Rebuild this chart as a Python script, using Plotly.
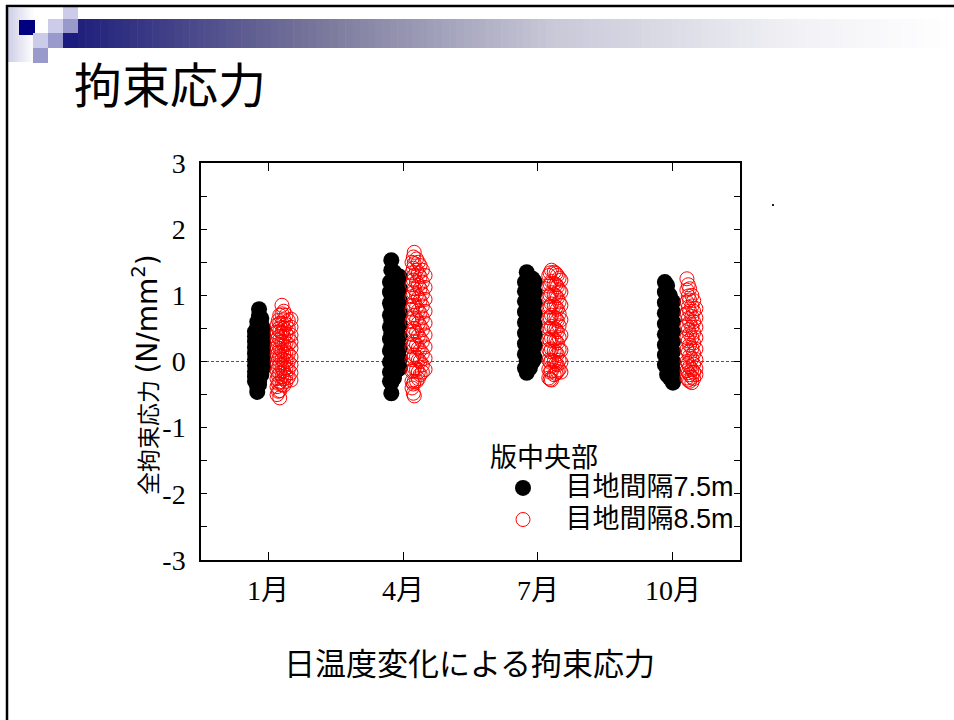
import plotly.graph_objects as go

# ---- data: restraint stress (N/mm^2), hourly values grouped by day column ----
# keys are x positions in month units, values are the stresses of that day
JAN_75 = {
    0.71: [0.45, 0.38, 0.30, 0.21, 0.12, 0.03, -0.06, -0.15, -0.23, -0.30],
    0.76: [0.60, 0.52, 0.41, 0.30, 0.18, 0.07, -0.05, -0.17, -0.28, -0.38, -0.46],
    0.80: [0.79, 0.70, 0.58, 0.45, 0.31, 0.18, 0.05, -0.08, -0.20, -0.30, -0.35],
    0.85: [0.65, 0.56, 0.44, 0.31, 0.19, 0.07, -0.04, -0.13, -0.20],
    0.89: [0.50, 0.41, 0.30, 0.19, 0.08, -0.02, -0.10],
}
JAN_85 = {
    1.20: [0.55, 0.44, 0.33, 0.21, 0.10, -0.02, -0.14, -0.26, -0.38, -0.50],
    1.23: [0.62, 0.49, 0.37, 0.26, 0.14, 0.03, -0.09, -0.21, -0.33, -0.45],
    1.26: [0.70, 0.58, 0.46, 0.33, 0.20, 0.08, -0.05, -0.18, -0.31, -0.44, -0.55],
    1.31: [0.85, 0.72, 0.58, 0.44, 0.30, 0.16, 0.03, -0.10, -0.23, -0.35],
    1.35: [0.76, 0.63, 0.50, 0.37, 0.24, 0.11, -0.02, -0.14, -0.26, -0.36],
    1.40: [0.70, 0.56, 0.42, 0.28, 0.15, 0.02, -0.10, -0.21, -0.30],
    1.45: [0.62, 0.50, 0.38, 0.26, 0.12, 0.00, -0.12, -0.24],
    1.51: [0.64, 0.52, 0.40, 0.30, 0.20, 0.07, -0.05, -0.17, -0.28],
}
APR_75 = {
    3.71: [1.20, 1.05, 0.88, 0.70, 0.52, 0.34, 0.16, -0.01, -0.16, -0.30],
    3.74: [1.53, 1.38, 1.20, 1.01, 0.82, 0.62, 0.42, 0.22, 0.03, -0.15, -0.32, -0.48],
    3.80: [1.35, 1.20, 1.02, 0.84, 0.65, 0.46, 0.28, 0.10, -0.08, -0.25],
    3.87: [1.30, 1.14, 0.97, 0.79, 0.61, 0.43, 0.25, 0.08, -0.13],
    3.93: [1.28, 1.10, 0.92, 0.74, 0.56, 0.38, 0.20, 0.04, -0.10],
}
APR_85 = {
    4.20: [1.50, 1.34, 1.16, 0.98, 0.79, 0.60, 0.41, 0.22, 0.03, -0.15, -0.30, -0.40],
    4.23: [1.58, 1.41, 1.23, 1.04, 0.85, 0.66, 0.46, 0.26, 0.06, -0.14, -0.34, -0.48],
    4.25: [1.65, 1.48, 1.30, 1.10, 0.90, 0.70, 0.50, 0.30, 0.10, -0.10, -0.30, -0.52],
    4.30: [1.55, 1.38, 1.20, 1.01, 0.82, 0.63, 0.44, 0.25, 0.07, -0.12, -0.30],
    4.34: [1.50, 1.33, 1.15, 0.96, 0.77, 0.58, 0.39, 0.20, 0.02, -0.16, -0.26],
    4.38: [1.45, 1.28, 1.10, 0.92, 0.73, 0.54, 0.35, 0.17, 0.00, -0.20],
    4.43: [1.38, 1.20, 1.02, 0.84, 0.66, 0.48, 0.30, 0.12, -0.05, -0.16],
    4.49: [1.30, 1.12, 0.94, 0.76, 0.58, 0.40, 0.22, 0.05, -0.12],
}
JUL_75 = {
    6.71: [1.20, 1.06, 0.91, 0.75, 0.59, 0.43, 0.27, 0.11, -0.10],
    6.75: [1.35, 1.20, 1.04, 0.87, 0.70, 0.53, 0.36, 0.19, 0.02, -0.17],
    6.82: [1.25, 1.10, 0.94, 0.78, 0.62, 0.46, 0.30, 0.14, -0.10],
    6.88: [1.25, 1.09, 0.93, 0.77, 0.61, 0.45, 0.29, 0.14, 0.00],
    6.93: [1.20, 1.04, 0.88, 0.72, 0.56, 0.40, 0.24, 0.05],
}
JUL_85 = {
    7.24: [1.30, 1.14, 0.98, 0.82, 0.66, 0.50, 0.34, 0.18, 0.02, -0.12, -0.25],
    7.27: [1.34, 1.17, 1.00, 0.83, 0.66, 0.49, 0.32, 0.15, -0.01, -0.16, -0.27],
    7.30: [1.38, 1.21, 1.04, 0.87, 0.70, 0.53, 0.36, 0.19, 0.02, -0.14, -0.28],
    7.36: [1.35, 1.18, 1.01, 0.84, 0.67, 0.50, 0.33, 0.16, 0.00, -0.20],
    7.40: [1.33, 1.16, 0.99, 0.82, 0.65, 0.48, 0.31, 0.14, -0.03, -0.18],
    7.43: [1.30, 1.13, 0.96, 0.79, 0.62, 0.45, 0.28, 0.11, -0.05, -0.15],
    7.47: [1.26, 1.08, 0.90, 0.72, 0.54, 0.36, 0.18, 0.02, -0.12],
    7.51: [1.23, 1.05, 0.85, 0.63, 0.40, 0.17, -0.01, -0.16],
}
OCT_75 = {
    9.82: [1.20, 1.05, 0.89, 0.73, 0.57, 0.41, 0.25, 0.10, -0.05],
    9.87: [1.15, 0.99, 0.83, 0.67, 0.51, 0.35, 0.19, 0.03, -0.10, -0.20],
    9.93: [1.00, 0.85, 0.70, 0.55, 0.40, 0.25, 0.10, -0.05, -0.18, -0.25],
    10.00: [0.90, 0.75, 0.60, 0.45, 0.30, 0.15, 0.00, -0.13, -0.25, -0.32],
}
OCT_85 = {
    10.31: [1.25, 1.08, 0.90, 0.72, 0.54, 0.36, 0.18, 0.00, -0.14, -0.25],
    10.34: [1.16, 0.99, 0.82, 0.65, 0.48, 0.31, 0.14, -0.03, -0.17, -0.28],
    10.37: [1.10, 0.93, 0.76, 0.59, 0.42, 0.25, 0.08, -0.08, -0.20, -0.30],
    10.42: [1.00, 0.84, 0.68, 0.52, 0.36, 0.20, 0.04, -0.12, -0.24, -0.32],
    10.46: [0.92, 0.76, 0.60, 0.44, 0.28, 0.12, -0.04, -0.16, -0.26],
    10.51: [0.80, 0.66, 0.52, 0.36, 0.19, 0.03, -0.10, -0.20],
}

MONTH_TICKS = [1, 4, 7, 10]
MONTH_LABELS = ["1月", "4月", "7月", "10月"]
Y_TICKS = [-3, -2, -1, 0, 1, 2, 3]
Y_LABELS = ["-3", "-2", "-1", "0", "1", "2", "3"]

SERIES_75 = "目地間隔7.5m"
SERIES_85 = "目地間隔8.5m"
LEGEND_TITLE = "版中央部"


def flatten(*groups):
    xs, ys = [], []
    for g in groups:
        for x, vals in g.items():
            xs.extend([x] * len(vals))
            ys.extend(vals)
    return xs, ys


x75, y75 = flatten(JAN_75, APR_75, JUL_75, OCT_75)
x85, y85 = flatten(JAN_85, APR_85, JUL_85, OCT_85)

W, H = 954, 720
SANS = "Liberation Sans, Noto Sans CJK JP, sans-serif"
SERIF = "Liberation Serif, Noto Sans CJK JP, serif"


def px(x):
    return x / W


def py(y):
    return 1 - y / H


def big(text, size):
    return '<span style="font-size:%dpx"> %s</span>' % (size, text)


fig = go.Figure()
fig.add_trace(go.Scatter(
    x=x75, y=y75, mode="markers", name=big(SERIES_75, 27),
    marker=dict(symbol="circle", size=16, color="black", line=dict(width=0)),
))
fig.add_trace(go.Scatter(
    x=x85, y=y85, mode="markers", name=big(SERIES_85, 27),
    marker=dict(symbol="circle-open", size=14, color="#ff0000", line=dict(width=1)),
))

shapes = []


def rect(x0, y0, x1, y1, color):
    shapes.append(dict(type="rect", xref="paper", yref="paper",
                       x0=px(x0), x1=px(x1), y0=py(y1), y1=py(y0),
                       fillcolor=color, line=dict(width=0), layer="below"))


def lerp(c0, c1, t):
    return tuple(round(a + (b - a) * t) for a, b in zip(c0, c1))


# header gradient bar (navy fading to white)
stops = [(0.0, (26, 26, 122)), (0.29, (122, 120, 155)), (0.55, (200, 200, 216)),
         (0.83, (242, 242, 246)), (1.0, (255, 255, 255))]
bar_x0, bar_x1, n = 63, 954, 120
for i in range(n):
    t = (i + 0.5) / n
    for (t0, c0), (t1, c1) in zip(stops[:-1], stops[1:]):
        if t0 <= t <= t1:
            c = lerp(c0, c1, (t - t0) / (t1 - t0))
            break
    xa = bar_x0 + (bar_x1 - bar_x0) * i / n
    xb = bar_x0 + (bar_x1 - bar_x0) * (i + 1) / n + 0.6
    rect(xa, 19, xb, 48, "rgb(%d,%d,%d)" % c)

# faint panel at the far left
for i in range(10):
    c = lerp((208, 208, 232), (255, 255, 255), i / 10)
    rect(8 + i * 2.5, 8, 8 + (i + 1) * 2.5 + 0.4, 62, "rgb(%d,%d,%d)" % c)

# small squares
LIGHT, MED, DARK = "#ccccea", "#9999cc", "#000080"
rect(19, 20, 35, 35, DARK)
rect(63, 5, 78, 19, LIGHT)
rect(48, 19, 63, 33, LIGHT)
rect(63, 19, 78, 33, MED)
rect(33, 33, 48, 48, LIGHT)
rect(48, 33, 63, 48, MED)
rect(63, 33, 78, 48, "#1c1c80")
rect(33, 48, 48, 63, MED)

# slide frame
shapes.append(dict(type="line", xref="paper", yref="paper", x0=px(7), x1=px(7),
                   y0=py(5), y1=0, line=dict(color="black", width=2.5)))
shapes.append(dict(type="line", xref="paper", yref="paper", x0=px(6), x1=1,
                   y0=py(6), y1=py(6), line=dict(color="black", width=2.5)))
# stray dot to the right of the plot
rect(772, 204, 774, 206, "#222222")

# dotted zero line across the plot area
shapes.append(dict(type="line", xref="x domain", yref="y", x0=0, x1=1, y0=0, y1=0,
                   line=dict(color="#555555", width=1, dash="3px,2px"), layer="below"))

annotations = [
    dict(text="拘束応力", x=px(72), y=py(86), xref="paper", yref="paper",
         xanchor="left", yanchor="middle", showarrow=False,
         font=dict(family=SANS, size=48, color="black")),
    dict(text="日温度変化による拘束応力", x=px(469), y=py(664), xref="paper", yref="paper",
         xanchor="center", yanchor="middle", showarrow=False,
         font=dict(family=SANS, size=31, color="black")),
    dict(text='全拘束応力 <span style="font-family:DejaVu Sans;font-size:28px">(N/mm<sup>2</sup>)</span>',
         x=px(145), y=py(375), xref="paper",
         yref="paper", xanchor="center", yanchor="middle", textangle=-90,
         showarrow=False, font=dict(family=SANS, size=23, color="black")),
]

axis_common = dict(showline=True, linecolor="black", linewidth=1.5, mirror="ticks",
                   ticks="inside", tickcolor="black", tickwidth=1, showgrid=False,
                   zeroline=False, automargin=False,
                   tickfont=dict(family=SERIF, size=28, color="black"))

fig.update_layout(
    width=W, height=H, autosize=False,
    margin=dict(l=0, r=0, t=0, b=0, pad=0),
    paper_bgcolor="white", plot_bgcolor="white",
    xaxis=dict(domain=[px(201), px(740)], range=[-0.49, 11.49],
               tickvals=MONTH_TICKS, ticktext=MONTH_LABELS, ticklen=8,
               ticklabelstandoff=5, **axis_common),
    yaxis=dict(domain=[py(560), py(163)], range=[-3, 3],
               tickvals=Y_TICKS, ticktext=Y_LABELS, ticklen=6,
               ticklabelstandoff=8,
               minor=dict(dtick=0.5, ticks="inside", ticklen=6, tickcolor="black"),
               **axis_common),
    showlegend=True,
    legend=dict(x=px(488), y=py(432), xanchor="left", yanchor="top",
                bgcolor="rgba(0,0,0,0)", itemwidth=60,
                title=dict(text=LEGEND_TITLE, font=dict(family=SANS, size=27, color="black")),
                font=dict(family=SANS, size=22, color="black")),
    shapes=shapes,
    annotations=annotations,
)

fig.write_html("out.html")
